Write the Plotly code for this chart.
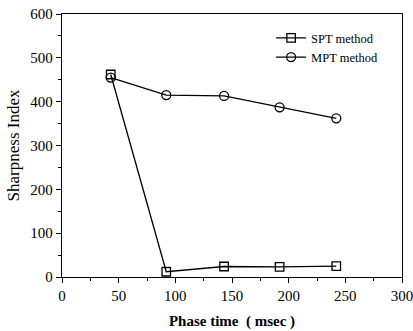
import plotly.graph_objects as go

phase_time = [43, 92, 143, 192, 242]
spt_values = [462, 12, 24, 23, 25]
mpt_values = [455, 415, 413, 387, 362]
x_ticks = [0, 50, 100, 150, 200, 250, 300]
y_ticks = [0, 100, 200, 300, 400, 500, 600]

font = "Liberation Serif, Times New Roman, serif"
fig = go.Figure()
fig.add_trace(go.Scatter(x=phase_time, y=spt_values, name="SPT method", mode="lines+markers",
                         line=dict(color="black", width=1.3),
                         marker=dict(symbol="square-open", size=8.5, color="black", line=dict(width=1.3))))
fig.add_trace(go.Scatter(x=phase_time, y=mpt_values, name="MPT method", mode="lines+markers",
                         line=dict(color="black", width=1.3),
                         marker=dict(symbol="circle-open", size=9, color="black", line=dict(width=1.3))))

axis_common = dict(showline=True, linecolor="black", linewidth=1.3, mirror=True, showgrid=False,
                   zeroline=False, ticks="outside", ticklen=5, tickwidth=1.2, tickcolor="black",
                   automargin=False, ticklabeloverflow="allow",
                   tickfont=dict(family=font, size=15, color="black"))
fig.update_xaxes(range=[0, 300], tickvals=x_ticks,
                 minor=dict(ticks="outside", ticklen=3, tickwidth=1.2, tickcolor="black", dtick=25, tick0=0),
                 title=dict(text="<b>Phase time  ( msec )</b>", font=dict(family=font, size=15, color="black"), standoff=12),
                 **axis_common)
fig.update_yaxes(range=[0, 600], tickvals=y_ticks,
                 minor=dict(ticks="outside", ticklen=3, tickwidth=1.2, tickcolor="black", dtick=50, tick0=0),
                 title=dict(text="Sharpness Index", font=dict(family=font, size=17, color="black"), standoff=6),
                 **axis_common)
fig.update_layout(width=413, height=331, margin=dict(l=62, r=11, t=14, b=54),
                  plot_bgcolor="white", paper_bgcolor="white",
                  showlegend=True,
                  legend=dict(x=0.615, y=0.965, xanchor="left", yanchor="top", bgcolor="rgba(0,0,0,0)",
                              font=dict(family=font, size=12.5, color="black"), tracegroupgap=0,
                              itemwidth=30))
fig.write_html("out.html")
